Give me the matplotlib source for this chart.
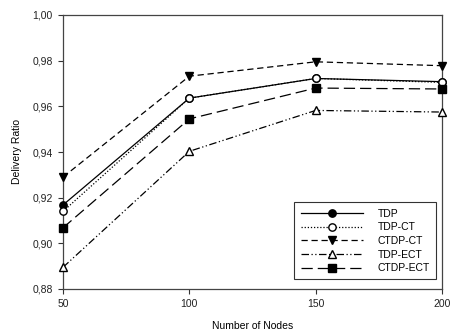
import numpy as np
import matplotlib.pyplot as plt
from matplotlib.ticker import FuncFormatter

plt.rcParams['font.family'] = ['Liberation Sans', 'DejaVu Sans']

# 数据
nodes = [50, 100, 150, 200]
tdp = [0.9168, 0.9636, 0.9722, 0.9708]
tdp_ct = [0.9140, 0.9636, 0.9722, 0.9705]
ctdp_ct = [0.9290, 0.9732, 0.9795, 0.9778]
tdp_ect = [0.8895, 0.9403, 0.9582, 0.9575]
ctdp_ect = [0.9068, 0.9545, 0.9680, 0.9676]

fig = plt.figure(figsize=(4.5, 3.36), dpi=100)
ax = fig.add_axes([63/450, 1-289/336, (442-63)/450, (289-15)/336])

ms = 5.3
kw = dict(color='black', lw=0.9, ms=ms, clip_on=False, zorder=3)
ax.plot(nodes, tdp, ls='-', marker='o', mfc='black', label='TDP', **kw)
ax.plot(nodes, tdp_ct, ls=(0, (1, 1.5)), marker='o', mfc='white', label='TDP-CT', **kw)
ax.plot(nodes, ctdp_ct, ls=(0, (5, 3)), marker='v', mfc='black', label='CTDP-CT', **kw)
ax.plot(nodes, tdp_ect, ls=(0, (6, 2, 1, 2, 1, 2)), marker='^', mfc='white', label='TDP-ECT', **kw)
ax.plot(nodes, ctdp_ect, ls=(0, (9, 4)), marker='s', mfc='black', label='CTDP-ECT', **kw)

ax.set_xlim(50, 200)
ax.set_ylim(0.88, 1.00)
ax.set_xticks([50, 100, 150, 200])
ax.set_yticks(np.arange(0.88, 1.001, 0.02))
ax.yaxis.set_major_formatter(FuncFormatter(lambda v, p: ('%.2f' % v).replace('.', ',')))
ax.tick_params(direction='out', length=3.5, width=0.8, labelsize=7.5, colors='#333333',
               labelcolor='#222222', pad=4)
for s in ax.spines.values():
    s.set_linewidth(0.9)
    s.set_color('#444444')

ax.set_xlabel('Number of Nodes', fontsize=7.5, labelpad=8)
ax.set_ylabel('Delivery Ratio', fontsize=7.5, labelpad=7)

leg = ax.legend(loc='lower right', fontsize=7.5, frameon=True, fancybox=False,
                edgecolor='black', handlelength=6.0, labelspacing=0.35,
                borderpad=0.6, bbox_to_anchor=(0.985, 0.035), handletextpad=1.4,
                borderaxespad=0)
leg.get_frame().set_linewidth(0.8)

fig.savefig('out.png', dpi=100)
